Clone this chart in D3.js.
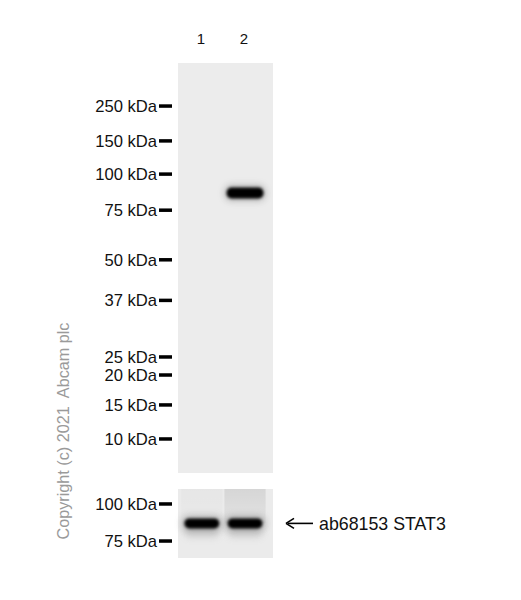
<!DOCTYPE html>
<html>
<head>
<meta charset="utf-8">
<script src="https://cdn.jsdelivr.net/npm/d3@7"></script>
<style>
  html, body { margin: 0; padding: 0; background: #fff; }
  svg { display: block; font-family: "Liberation Sans", Arial, sans-serif; }
</style>
</head>
<body>
<svg id="blot"></svg>
<script>
const lanes = ["1", "2"];
const markerKDa = [250, 150, 100, 75, 50, 37, 25, 20, 15, 10];
// relative migration (0 = top of gel, 1 = bottom)
const markerRf = [0.105, 0.190, 0.271, 0.359, 0.480, 0.579, 0.717, 0.761, 0.834, 0.917];

// main blot: STAT3 band at ~86 kDa, only in lane 2
const bandKDa = 86;
const mainSignal = [0, 1];

// lower panel (same antibody, shorter crop)
const lowerKDa = [100, 75];
const lowerRf = [0.217, 0.754];
const lowerSignal = [1, 1];
const lowerSmear = [0.02, 0.09];

const bandLabel = "ab68153 STAT3";
const copyright = "Copyright (c) 2021  Abcam plc";

function drawBlot() {
  const width = 521, height = 600;
  const svg = d3.select("#blot").attr("width", width).attr("height", height);

  const gelLeft = 178, gelRight = 273;
  const x = d3.scalePoint().domain(lanes).range([gelLeft, gelRight]).padding(0.6).align(0.46);
  const bandW = x.step() * 0.9;

  const defs = svg.append("defs");
  defs.append("filter").attr("id", "blur")
    .attr("x", "-30%").attr("y", "-100%").attr("width", "160%").attr("height", "300%")
    .append("feGaussianBlur").attr("stdDeviation", 1.6);
  defs.append("filter").attr("id", "halo")
    .attr("x", "-30%").attr("y", "-100%").attr("width", "160%").attr("height", "300%")
    .append("feGaussianBlur").attr("stdDeviation", 3.5);
  const grad = defs.append("linearGradient").attr("id", "smear")
    .attr("x1", 0).attr("y1", 0).attr("x2", 0).attr("y2", 1);
  grad.append("stop").attr("offset", "0%").attr("stop-color", "#000").attr("stop-opacity", 1);
  grad.append("stop").attr("offset", "100%").attr("stop-color", "#000").attr("stop-opacity", 0.4);

  // lane numbers
  svg.append("g").selectAll("text")
    .data(lanes)
    .join("text")
    .attr("x", d => x(d) - 1)
    .attr("y", 44)
    .attr("text-anchor", "middle")
    .style("font-size", "15px")
    .attr("fill", "#111")
    .text(d => d);

  // ---- main panel ----
  const mainTop = 63, mainBottom = 473;
  const rfMain = d3.scaleLog().domain(markerKDa).range(markerRf);
  const yMain = d3.scaleLinear().domain([0, 1]).range([mainTop, mainBottom]);

  svg.append("rect")
    .attr("x", gelLeft).attr("y", mainTop)
    .attr("width", gelRight - gelLeft).attr("height", mainBottom - mainTop)
    .attr("fill", "#ececec");

  const mainG = svg.append("g");
  lanes.forEach((lane, i) => {
    if (!mainSignal[i]) return;
    const cy = yMain(rfMain(bandKDa));
    mainG.append("rect")
      .attr("x", x(lane) - bandW / 2 - 1).attr("y", cy - 8)
      .attr("width", bandW + 2).attr("height", 16).attr("rx", 7)
      .attr("fill", "#555").attr("opacity", 0.35 * mainSignal[i])
      .attr("filter", "url(#halo)");
    mainG.append("rect")
      .attr("x", x(lane) - bandW / 2 + 1).attr("y", cy - 5.5)
      .attr("width", bandW - 2).attr("height", 11).attr("rx", 5)
      .attr("fill", "#000").attr("opacity", mainSignal[i])
      .attr("filter", "url(#blur)");
  });

  const ladder = svg.append("g");
  markerKDa.forEach(k => {
    const yy = yMain(rfMain(k));
    ladder.append("rect")
      .attr("x", 159).attr("y", yy - 1.75)
      .attr("width", 13).attr("height", 3.5)
      .attr("fill", "#000");
    ladder.append("text")
      .attr("x", 157).attr("y", yy)
      .attr("dy", "0.36em")
      .attr("text-anchor", "end")
      .style("font-size", "16.6px")
      .attr("fill", "#111")
      .text(k + " kDa");
  });

  // ---- lower panel ----
  const lowTop = 489, lowBottom = 558;
  const rfLow = d3.scaleLog().domain(lowerKDa).range(lowerRf);
  const yLow = d3.scaleLinear().domain([0, 1]).range([lowTop, lowBottom]);

  svg.append("rect")
    .attr("x", gelLeft).attr("y", lowTop)
    .attr("width", gelRight - gelLeft).attr("height", lowBottom - lowTop)
    .attr("fill", "#ebebeb");

  const lowG = svg.append("g");
  const lowY = yLow(rfLow(bandKDa));
  lanes.forEach((lane, i) => {
    // faint lane smear above the band
    lowG.append("rect")
      .attr("x", x(lane) - x.step() / 2 + 1).attr("y", lowTop)
      .attr("width", x.step() - 2).attr("height", lowY - lowTop)
      .attr("fill", "url(#smear)").attr("opacity", lowerSmear[i]);
    // soft shadow under the band
    lowG.append("rect")
      .attr("x", x(lane) - bandW / 2 + 2).attr("y", lowY + 2)
      .attr("width", bandW - 4).attr("height", 12).attr("rx", 5)
      .attr("fill", "#888").attr("opacity", 0.25)
      .attr("filter", "url(#halo)");
    lowG.append("rect")
      .attr("x", x(lane) - bandW / 2 - 1).attr("y", lowY - 8)
      .attr("width", bandW + 2).attr("height", 16).attr("rx", 7)
      .attr("fill", "#555").attr("opacity", 0.35 * lowerSignal[i])
      .attr("filter", "url(#halo)");
    lowG.append("rect")
      .attr("x", x(lane) - bandW / 2 + 2).attr("y", lowY - 5)
      .attr("width", bandW - 4).attr("height", 10).attr("rx", 5)
      .attr("fill", "#000").attr("opacity", lowerSignal[i])
      .attr("filter", "url(#blur)");
  });

  const lowLadder = svg.append("g");
  lowerKDa.forEach(k => {
    const yy = yLow(rfLow(k));
    lowLadder.append("rect")
      .attr("x", 159).attr("y", yy - 1.75)
      .attr("width", 13).attr("height", 3.5)
      .attr("fill", "#000");
    lowLadder.append("text")
      .attr("x", 157).attr("y", yy)
      .attr("dy", "0.36em")
      .attr("text-anchor", "end")
      .style("font-size", "16.6px")
      .attr("fill", "#111")
      .text(k + " kDa");
  });

  // arrow + antibody label
  const ann = svg.append("g").attr("transform", `translate(${gelRight + 13},${lowY})`);
  ann.append("line")
    .attr("x1", 2).attr("x2", 27).attr("y1", 0).attr("y2", 0)
    .attr("stroke", "#000").attr("stroke-width", 1.6);
  ann.append("path")
    .attr("d", "M0,0 L8,-5 M0,0 L8,5")
    .attr("stroke", "#000").attr("stroke-width", 1.6).attr("fill", "none");
  ann.append("text")
    .attr("x", 33).attr("dy", "0.36em")
    .style("font-size", "17.8px")
    .attr("fill", "#111")
    .text(bandLabel);

  // copyright, rotated
  svg.append("text")
    .attr("transform", "translate(69,431) rotate(-90)")
    .attr("text-anchor", "middle")
    .style("font-size", "16.2px")
    .attr("fill", "#9a9a9a")
    .attr("xml:space", "preserve")
    .style("white-space", "pre")
    .text(copyright);
}

drawBlot();
</script>
</body>
</html>
